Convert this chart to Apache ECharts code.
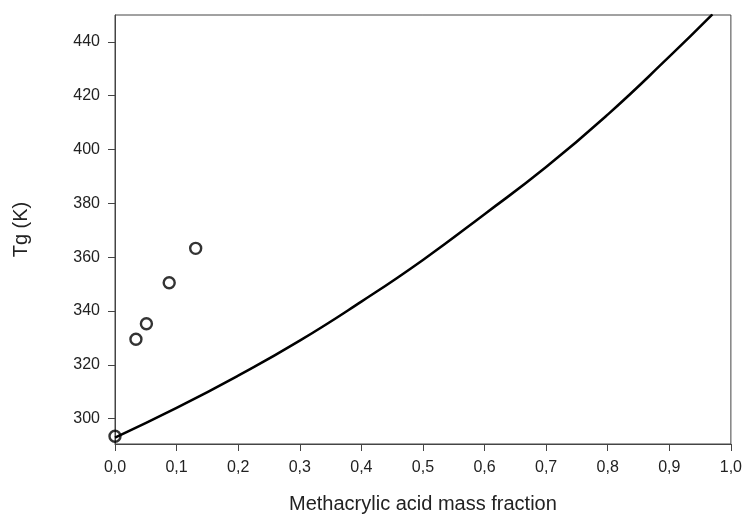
<!DOCTYPE html>
<html>
<head>
<meta charset="utf-8">
<script src="https://cdn.jsdelivr.net/npm/echarts@6/dist/echarts.min.js"></script>
<style>
html,body{margin:0;padding:0;background:#fff;}
#chart{width:745px;height:519px;}
</style>
</head>
<body>
<div id="chart"></div>
<script>
// Measured data (scatter points)
const pointX = [0.0, 0.034, 0.051, 0.088, 0.131];
const pointY = [293.5, 329.5, 335.3, 350.5, 363.3];

// Model curve
const curveX = [0.0, 0.1, 0.2, 0.3, 0.4, 0.5, 0.6, 0.7, 0.8, 0.9, 0.97];
const curveY = [293.0, 304.0, 316.0, 329.0, 343.5, 359.0, 376.0, 393.5, 413.0, 434.5, 450.2];

const xTicks = [0, 0.1, 0.2, 0.3, 0.4, 0.5, 0.6, 0.7, 0.8, 0.9, 1.0];
const yTicks = [300, 320, 340, 360, 380, 400, 420, 440];

const FONT = '"Liberation Sans", Arial, sans-serif';
const AXIS_COLOR = '#444';

const chart = echarts.init(document.getElementById('chart'), null, {renderer: 'canvas'});
chart.setOption({
  animation: false,
  backgroundColor: '#fff',
  grid: {
    left: 115, right: 14, top: 15, bottom: 73,
    show: true, borderColor: AXIS_COLOR, borderWidth: 1, backgroundColor: 'transparent'
  },
  xAxis: {
    type: 'value', min: 0, max: 1, interval: 0.1,
    name: 'Methacrylic acid mass fraction',
    nameLocation: 'middle', nameGap: 50,
    nameTextStyle: {fontFamily: FONT, fontSize: 20, color: '#222'},
    axisLine: {show: true, lineStyle: {color: AXIS_COLOR, width: 1}},
    axisTick: {show: true, inside: false, length: 7, lineStyle: {color: AXIS_COLOR}, customValues: xTicks},
    axisLabel: {
      fontFamily: FONT, fontSize: 16, color: '#222', margin: 16,
      customValues: xTicks,
      formatter: v => v.toFixed(1).replace('.', ',')
    },
    splitLine: {show: false}
  },
  yAxis: {
    type: 'value', min: 290.6, max: 450,
    name: 'Tg (K)',
    nameLocation: 'middle', nameGap: 84, nameRotate: 90,
    nameTextStyle: {fontFamily: FONT, fontSize: 20, color: '#222'},
    axisLine: {show: true, lineStyle: {color: AXIS_COLOR, width: 1}},
    axisTick: {show: true, inside: false, length: 7, lineStyle: {color: AXIS_COLOR}, customValues: yTicks},
    axisLabel: {
      fontFamily: FONT, fontSize: 16, color: '#222', margin: 15,
      customValues: yTicks
    },
    splitLine: {show: false}
  },
  series: [
    {
      type: 'line',
      data: curveX.map((x, i) => [x, curveY[i]]),
      smooth: true,
      showSymbol: false,
      clip: true,
      lineStyle: {color: '#000', width: 2.5},
      z: 2
    },
    {
      type: 'scatter',
      data: pointX.map((x, i) => [x, pointY[i]]),
      symbol: 'circle',
      symbolSize: 11,
      clip: false,
      itemStyle: {color: 'rgba(255,255,255,0)', borderColor: '#000', borderWidth: 2.4},
      z: 3
    }
  ]
});
</script>
</body>
</html>
